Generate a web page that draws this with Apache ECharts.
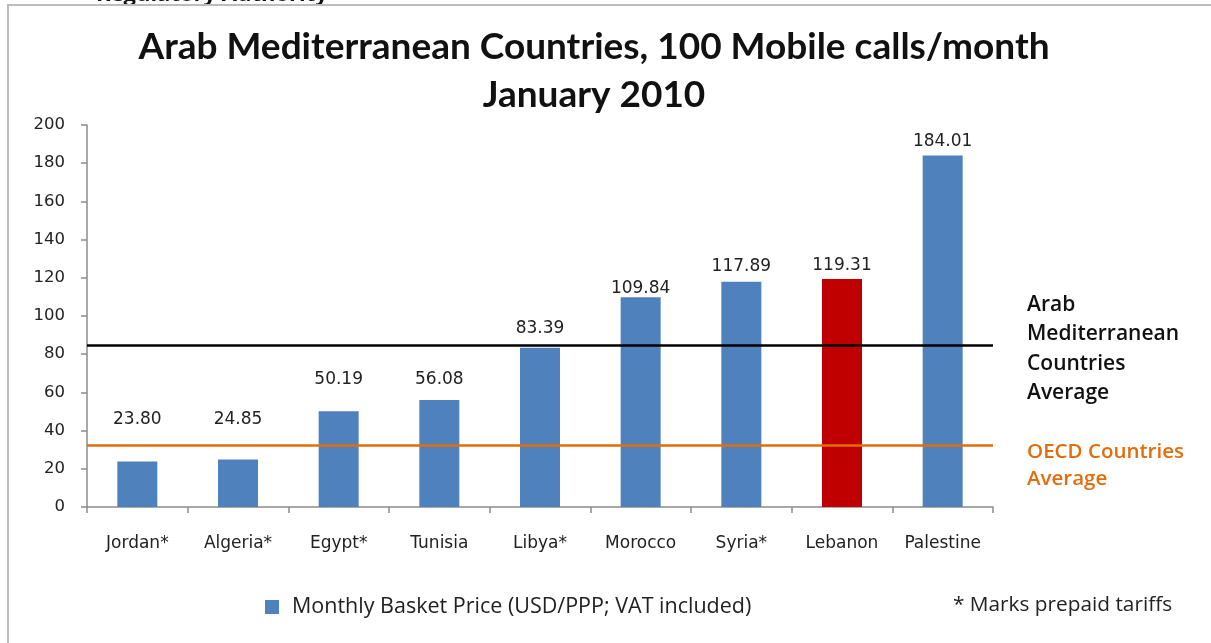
<!DOCTYPE html>
<html>
<head>
<meta charset="utf-8">
<script src="https://cdn.jsdelivr.net/npm/echarts@6/dist/echarts.min.js"></script>
<style>html,body{margin:0;padding:0;background:#fff;}#chart{width:1211px;height:643px;}</style>
</head>
<body>
<div id="chart"></div>
<script>
// ---- data ----
const categories = ['Jordan*', 'Algeria*', 'Egypt*', 'Tunisia', 'Libya*', 'Morocco', 'Syria*', 'Lebanon', 'Palestine'];
const prices = [23.80, 24.85, 50.19, 56.08, 83.39, 109.84, 117.89, 119.31, 184.01];
const highlighted = ['Lebanon'];
const arabAverage = 84.8;
const oecdAverage = 32.5;
const yMin = 0, yMax = 200, yStep = 20;
const seriesName = 'Monthly Basket Price (USD/PPP; VAT included)';
const titleLines = ['Arab Mediterranean Countries, 100 Mobile calls/month', 'January 2010'];
const arabLabel = ['Arab', 'Mediterranean', 'Countries', 'Average'];
const oecdLabel = ['OECD Countries', 'Average'];
const footnote = '* Marks prepaid tariffs';
const cropText = 'Regulatory Authority';

// ---- style ----
const blue = '#4F81BD', red = '#C00000', orange = '#E46C0A';
const labelDistances = [34, 32, 24, 13, 12, 1, 8, 6, 6];

const chart = echarts.init(document.getElementById('chart'), null, {renderer: 'canvas'});
chart.setOption({
  backgroundColor: '#fff',
  animation: false,
  grid: {left: 87, right: 218, top: 125, bottom: 136, containLabel: false},
  legend: {
    left: 260, top: 591,
    icon: 'rect', itemWidth: 14, itemHeight: 14, itemGap: 12,
    textStyle: {fontFamily: 'Open Sans', fontSize: 21.5, color: '#222', padding: [0, 0, 0, 8]},
    data: [seriesName]
  },
  xAxis: {
    type: 'category', data: categories,
    axisLine: {lineStyle: {color: '#8c8c8c', width: 1.5}},
    axisTick: {show: true, length: 6, lineStyle: {color: '#8c8c8c', width: 1.5}},
    axisLabel: {fontFamily: 'DejaVu Sans', fontSize: 17, color: '#222', margin: 28}
  },
  yAxis: {
    type: 'value', min: yMin, max: yMax, interval: yStep,
    splitLine: {show: false},
    axisLine: {show: true, lineStyle: {color: '#8c8c8c', width: 1.5}},
    axisTick: {show: true, length: 6, lineStyle: {color: '#8c8c8c', width: 1.5}},
    axisLabel: {fontFamily: 'DejaVu Sans', fontSize: 16.5, color: '#222', margin: 22}
  },
  series: [{
    name: seriesName,
    type: 'bar',
    barWidth: 40,
    itemStyle: {color: blue},
    label: {
      show: true, position: 'top',
      fontFamily: 'DejaVu Sans', fontSize: 17, color: '#222',
      formatter: p => p.value.toFixed(2)
    },
    data: prices.map((v, i) => ({
      value: v,
      itemStyle: {color: highlighted.includes(categories[i]) ? red : blue},
      label: {distance: labelDistances[i] - 1}
    })),
    markLine: {
      silent: true, symbol: ['none', 'none'],
      label: {show: false},
      data: [
        {yAxis: arabAverage, lineStyle: {color: '#000', width: 2.5, type: 'solid'}},
        {yAxis: oecdAverage, lineStyle: {color: orange, width: 2.5, type: 'solid'}}
      ]
    }
  }],
  graphic: [
    {type: 'rect', shape: {x: 8, y: 5, width: 1400, height: 800}, style: {fill: 'none', stroke: '#bdbdbd', lineWidth: 2}, silent: true, z: 10},
    {type: 'text', x: 96, y: 6, z: 5, style: {text: cropText, font: 'bold 22px "Open Sans"', fill: '#111', textVerticalAlign: 'bottom'}},
    {type: 'text', x: 594, y: 47, style: {text: titleLines[0], font: 'bold 37px Lato', fill: '#111', textAlign: 'center', textVerticalAlign: 'middle'}},
    {type: 'text', x: 594, y: 95, style: {text: titleLines[1], font: 'bold 37px Lato', fill: '#111', textAlign: 'center', textVerticalAlign: 'middle'}},
    {type: 'text', x: 1027, y: 290, style: {text: arabLabel.join('\n'), font: '600 21px "Open Sans"', lineHeight: 29.5, fill: '#111'}},
    {type: 'text', x: 1027, y: 439, style: {text: oecdLabel.join('\n'), font: '600 20.5px "Open Sans"', lineHeight: 27, fill: orange}},
    {type: 'text', x: 953, y: 605, style: {text: footnote, font: '20.8px "Open Sans"', fill: '#222', textVerticalAlign: 'middle'}}
  ]
});
</script>
</body>
</html>
